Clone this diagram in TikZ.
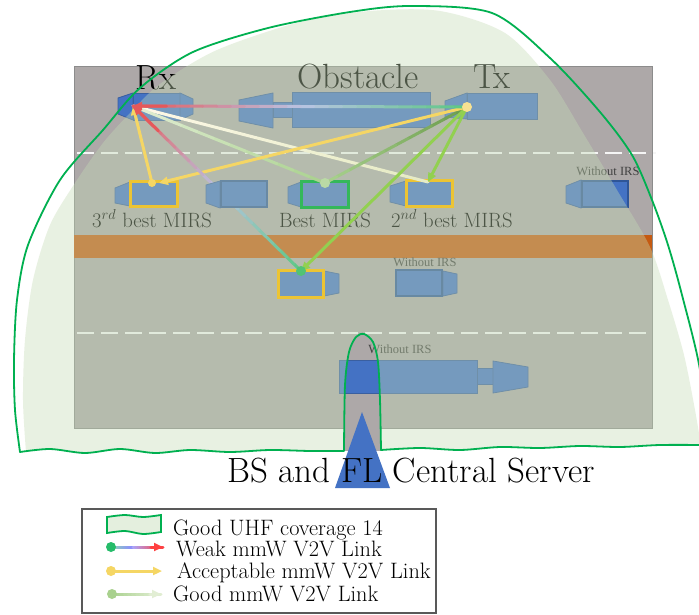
\documentclass[tikz,border=0pt]{standalone}
\usepackage{fontspec}
\newfontfamily\irsfont{Liberation Serif}
\usetikzlibrary{arrows.meta,calc}

\definecolor{roadgray}{RGB}{173,168,168}
\definecolor{roadedge}{RGB}{140,140,140}
\definecolor{median}{RGB}{197,90,17}
\definecolor{covfill}{RGB}{196,219,181}
\definecolor{covline}{RGB}{0,176,80}
\definecolor{vehblue}{RGB}{68,114,196}
\definecolor{vehedge}{RGB}{58,95,160}
\definecolor{vehdark}{RGB}{47,85,151}
\definecolor{mirsyellow}{RGB}{236,196,52}
\definecolor{mirsgreen}{RGB}{52,184,90}
\definecolor{linkyellow}{RGB}{245,214,100}
\definecolor{goodgreen}{RGB}{146,208,80}
\definecolor{goodlight}{RGB}{169,209,142}
\definecolor{goodpale}{RGB}{226,238,212}
\definecolor{oliveg}{RGB}{106,155,75}
\definecolor{weakgreen}{RGB}{90,200,130}
\definecolor{weakblue}{RGB}{185,196,228}
\definecolor{weakred}{RGB}{230,88,90}

% straight link whose colour runs from #3 (at #1) to #4 (at #2)
\newcommand\gradlink[4]{%
  \foreach \k in {0,...,11}{%
    \pgfmathsetmacro\ta{\k/12}%
    \pgfmathsetmacro\tb{(\k+1)/12}%
    \pgfmathtruncatemacro\pc{100-(\k+0.5)*100/12}%
    \draw[linkline, draw=#3!\pc!#4] ($(#1)!\ta!(#2)$) -- ($(#1)!\tb!(#2)$);%
  }}

\tikzset{
  veh/.style={fill=vehblue, draw=vehedge, line width=0.8pt},
  vehthick/.style={fill=vehblue, draw=vehdark, line width=2.5pt},
  lanemark/.style={draw=white!92!gray, line width=2.5pt, dash pattern=on 17pt off 7pt},
  linkline/.style={line width=3pt, line cap=round},
  tip/.style={-{Triangle[length=9pt,width=8pt]}},
  bigtext/.style={font=\fontsize{35}{41}\selectfont, anchor=base, inner sep=0pt},
  mirstext/.style={font=\fontsize{20.7}{25}\selectfont, anchor=base, inner sep=0pt},
  irs/.style={font=\irsfont\fontsize{12.5}{14}\selectfont, text=black!75, inner sep=0pt},
  legtext/.style={font=\fontsize{22.3}{26}\selectfont, anchor=base west, inner sep=0pt},
  frameY/.style={draw=mirsyellow, line width=3pt},
  frameG/.style={draw=mirsgreen, line width=3pt},
  linkdot/.style={circle, inner sep=0pt, minimum size=#1},
}

\begin{document}
\begin{tikzpicture}[x=1pt,y=-1pt]
\useasboundingbox (0,0) rectangle (699,615);
\fill[white] (0,0) rectangle (699,615);

% ---- road ----
\draw[fill=roadgray, draw=roadedge, line width=1pt] (74,67) rectangle (652,428);
\fill[median] (74,235) rectangle (652,258);
\draw[lanemark] (77,153) -- (656,153);
\draw[lanemark] (77,333) -- (652,333);
\fill[roadgray] (344.5,428) rectangle (380.5,451);

% ---- vehicles, top lane ----
% Rx
\draw[veh] (118,98) -- (133,93) -- (133,120) -- (118,114) -- cycle;
\draw[veh] (133,93) rectangle (180,120);
\draw[veh] (180,93) -- (193,99) -- (193,114) -- (180,120) -- cycle;
% obstacle truck
\draw[veh] (239,100) -- (273,93) -- (273,128) -- (239,121) -- cycle;
\draw[veh] (273,102) rectangle (292,117);
\draw[veh] (292,92) rectangle (430,127);
% Tx
\draw[veh] (445,101) -- (467,93) -- (467,119) -- (445,117) -- cycle;
\draw[veh] (467,93) rectangle (537,119);

% ---- vehicles, second lane ----
\draw[veh] (115,188) -- (130,182) -- (130,206) -- (115,203) -- cycle;
\draw[veh] (130,182) rectangle (177,206);
\draw[veh] (288,187) -- (301,182) -- (301,207) -- (288,203) -- cycle;
\draw[veh] (301,182) rectangle (348,207);
\draw[veh] (390,186) -- (406,181) -- (406,206) -- (390,202) -- cycle;
\draw[veh] (406,181) rectangle (452,206);
\draw[veh] (566,186) -- (581,180) -- (581,208) -- (566,203) -- cycle;
\draw[vehthick] (582,181) rectangle (628,207);

% ---- vehicles, third lane ----
\draw[veh] (324,271) -- (339,274) -- (339,293) -- (324,296) -- cycle;
\draw[veh] (278,270) rectangle (323,297);
\draw[veh] (443,271) -- (457,274) -- (457,293) -- (443,296) -- cycle;
\draw[vehthick] (396,270) rectangle (442,296);

% ---- vehicles, bottom lane ----
\draw[veh] (339,360) rectangle (477,393);
\draw[veh] (477,368) rectangle (493,384);
\draw[veh] (493,361) -- (528,367) -- (528,387) -- (493,393) -- cycle;

% ---- labels on the road ----
\node[bigtext] (rxlab) at (156,90) {Rx};
\node[bigtext] (oblab) at (358,89) {Obstacle};
\node[bigtext] (txlab) at (492,89) {Tx};
\node[mirstext] (m3lab) at (152,227) {$3^{rd}$ best MIRS};
\node[mirstext] (mblab) at (325,227) {Best MIRS};
\node[mirstext] (m2lab) at (452,227) {$2^{nd}$ best MIRS};
\node[irs] (irsA) at (608,171) {Without IRS};
\node[irs] (irsB) at (425,262) {Without IRS};
\node[irs] (irsC) at (400,349) {Without IRS};

% ---- UHF coverage area ----
\fill[covfill, fill opacity=0.39]
  plot[smooth] coordinates {(26,452) (23,400) (25,340) (33,280) (50,225) (75,183) (103,143) (130,113) (160,84) (217,50) (300,22) (370,11) (440,11) (505,33) (550,80) (583,133) (617,190) (650,247) (668,300) (684,355) (695,410) (701,446)}
  -- plot[smooth] coordinates {(701,446) (660,445) (620,447) (580,446) (540,448) (500,447) (460,450) (420,448) (381,450)}
  -- plot[smooth] coordinates {(381,450) (380,400) (378,362) (373,342) (364,334) (356,337) (349,352) (345,385) (344,451)}
  -- plot[smooth] coordinates {(344,451) (310,451) (270,450) (230,452) (190,450) (155,453) (120,449) (85,453) (50,449) (26,452)}
  -- cycle;
\draw[covline, line width=1.8pt, line join=round]
  plot[smooth] coordinates {(20,452) (15,410) (14,360) (17,300) (28,245) (60,180) (103,130) (140,88) (193,52) (268,28) (350,12) (411,6) (492,13) (550,58) (600,112) (632,155) (652,200) (668,245) (682,295) (700,370) (706,445)}
  -- plot[smooth] coordinates {(706,445) (660,445) (620,447) (580,446) (540,448) (500,447) (460,450) (420,448) (381,450)}
  -- plot[smooth] coordinates {(381,450) (380,400) (378,362) (373,342) (364,334) (356,337) (349,352) (345,385) (344,451)}
  -- plot[smooth] coordinates {(344,451) (310,451) (270,450) (230,452) (190,450) (155,453) (120,449) (85,453) (50,449) (20,452)}
  -- cycle;

% ---- MIRS frames ----
\draw[frameY] (130,182) rectangle (177,206);
\draw[frameG] (301,182) rectangle (348,207);
\draw[frameY] (406,181) rectangle (452,206);
\draw[frameY] (278,270) rectangle (323,297);

% ---- link end points ----
\coordinate (R) at (133,106);
\coordinate (T) at (467,107);
\coordinate (M3) at (152,183);
\coordinate (M3t) at (159,183);
\coordinate (Bst) at (325,183);
\coordinate (M2) at (428,182);
\coordinate (B) at (301,271);
\coordinate (TRm) at ($(T)!0.5!(R)$);
\coordinate (BRm) at ($(B)!0.5!(R)$);

% good links
\gradlink{M2}{R}{goodpale}{white!85!linkyellow}
\gradlink{Bst}{R}{goodlight}{goodpale}
\gradlink{T}{Bst}{oliveg}{goodlight}
\draw[linkline, draw=goodgreen, tip] (T) -- (M2);
\draw[linkline, draw=goodgreen, tip] (T) -- (B);
% acceptable links
\draw[linkline, draw=linkyellow, tip] (T) -- (M3t);
\draw[linkline, draw=linkyellow, tip] (M3) -- (R);
% weak links
\gradlink{T}{TRm}{weakgreen}{weakblue}
\gradlink{TRm}{R}{weakblue}{weakred}
\gradlink{B}{BRm}{weakgreen}{weakblue}
\gradlink{BRm}{R}{weakblue}{weakred}
\draw[linkline, draw=weakred, tip] ($(T)!0.9!(R)$) -- (R);
\draw[linkline, draw=weakred, tip] ($(B)!0.85!(R)$) -- (R);

% dots
\node[linkdot=10pt, fill=white!30!linkyellow] (txdot) at (T) {};
\node[linkdot=8pt, fill=linkyellow] (m3dot) at (M3) {};
\node[linkdot=10pt, fill=goodlight!80!white] (bstdot) at (Bst) {};
\node[linkdot=10pt, fill=mirsgreen!85!white] (bdot) at (B) {};

% truck of the second lane, passing over the weak link
\draw[fill=vehblue!61!covfill, draw=vehedge!61!covfill, line width=0.8pt]
  (206,185) -- (220,181) -- (220,208) -- (206,203) -- cycle;
\draw[fill=vehblue!61!covfill, draw=vehdark!61!covfill, line width=2.5pt]
  (221,181) rectangle (267,207);

% ---- base station ----
\fill[vehblue] (362,412) -- (335,488) -- (390,488) -- cycle;
\node[bigtext] (bslab) at (411,482) {BS and FL Central Server};

% ---- legend ----
\draw[draw=black!65, line width=1.2pt] (82,509) rectangle (436,613);
\draw[fill=covfill!45!white, draw=covline, line width=1.8pt]
  plot[smooth] coordinates {(107,517) (125,515) (143,517) (161,515)}
  -- plot[smooth] coordinates {(161,532) (143,534) (125,531) (107,533)} -- cycle;
\node[legtext] (lg1) at (173,535) {Good UHF coverage 14};

\coordinate (LwA) at (111,547);
\coordinate (LwM) at (133,547);
\coordinate (LwB) at (163,547);
\gradlink{LwA}{LwM}{covline}{blue!45!white}
\gradlink{LwM}{LwB}{blue!45!white}{red!75!white}
\draw[linkline, draw=red!75!white, tip] (151,547) -- (LwB);
\node[linkdot=10pt, fill=covline!85!white] (lwdot) at (LwA) {};
\node[legtext] (lg2) at (176,556) {Weak mmW V2V Link};

\coordinate (LaA) at (111,571);
\coordinate (LaB) at (162,571);
\draw[linkline, draw=linkyellow, tip] (LaA) -- (LaB);
\node[linkdot=10pt, fill=linkyellow] (ladot) at (LaA) {};
\node[legtext] (lg3) at (177,578) {Acceptable mmW V2V Link};

\coordinate (LgA) at (112,594);
\coordinate (LgB) at (161,594);
\gradlink{LgA}{LgB}{goodlight}{goodpale}
\draw[linkline, draw=goodpale, tip] (150,594) -- (LgB);
\node[linkdot=10pt, fill=goodlight] (lgdot) at (LgA) {};
\node[legtext] (lg4) at (173,601) {Good mmW V2V Link};
\end{tikzpicture}
\end{document}
